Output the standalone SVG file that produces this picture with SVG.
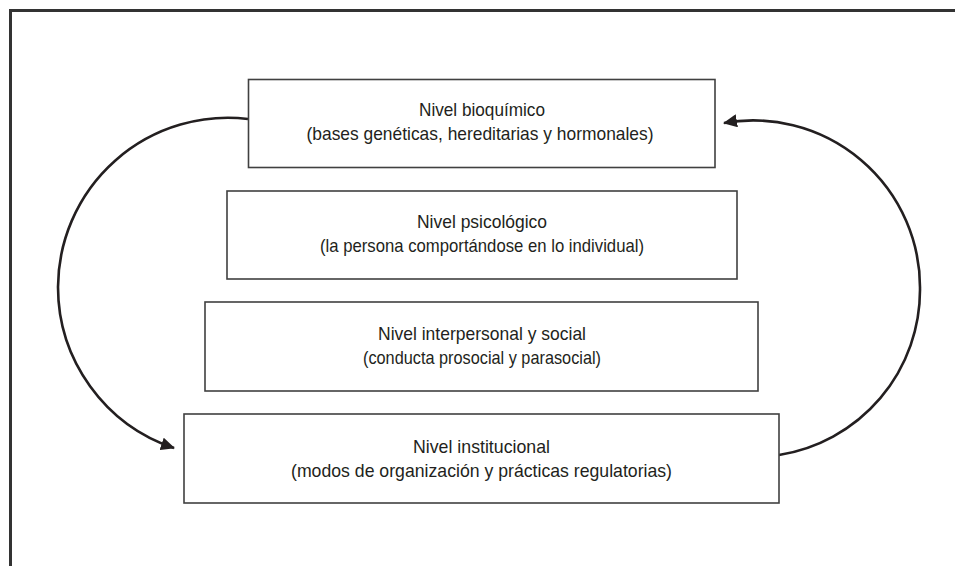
<svg xmlns="http://www.w3.org/2000/svg" width="955" height="566" viewBox="0 0 955 566">
<style>
.box{fill:#fff;stroke:#404040;stroke-width:1.6}
.t{font-family:"Liberation Sans",Arial,sans-serif;font-size:19px;fill:#231f20;text-anchor:middle}
.arc{fill:none;stroke:#231f20;stroke-width:2.6}
.frame{fill:none;stroke:#333;stroke-width:3}
</style>
<defs>
<marker id="ah" viewBox="0 0 14 13" refX="13" refY="6.5" markerWidth="14" markerHeight="13" markerUnits="userSpaceOnUse" orient="auto">
<path d="M0,0 L14,6.5 L0,13 Z" fill="#231f20"/>
</marker>
</defs>
<rect width="955" height="566" fill="#fff"/>
<path class="frame" d="M10.5 566 V10.5 H955"/>
<g id="connectors">
<path class="arc" d="M248 119 A170 170 0 0 0 58 287 A170 170 0 0 0 174 448" marker-end="url(#ah)"/>
<path class="arc" d="M779 455 A167 167 0 0 0 920 289 A167 167 0 0 0 724 123" marker-end="url(#ah)"/>
</g>
<g id="n1">
<rect class="box" x="248.5" y="79.5" width="466.5" height="88"/>
<text class="t" x="482" y="116" textLength="126" lengthAdjust="spacingAndGlyphs">Nivel bioquímico</text>
<text class="t" x="480" y="140" textLength="347" lengthAdjust="spacingAndGlyphs">(bases genéticas, hereditarias y hormonales)</text>
</g>
<g id="n2">
<rect class="box" x="227" y="191" width="510" height="88"/>
<text class="t" x="482" y="228" textLength="130" lengthAdjust="spacingAndGlyphs">Nivel psicológico</text>
<text class="t" x="482" y="252" textLength="324" lengthAdjust="spacingAndGlyphs">(la persona comportándose en lo individual)</text>
</g>
<g id="n3">
<rect class="box" x="205" y="302" width="553" height="89"/>
<text class="t" x="482" y="340" textLength="208" lengthAdjust="spacingAndGlyphs">Nivel interpersonal y social</text>
<text class="t" x="482" y="364" textLength="238" lengthAdjust="spacingAndGlyphs">(conducta prosocial y parasocial)</text>
</g>
<g id="n4">
<rect class="box" x="184" y="414" width="595" height="89"/>
<text class="t" x="481.5" y="453" textLength="137" lengthAdjust="spacingAndGlyphs">Nivel institucional</text>
<text class="t" x="481.5" y="477" textLength="381" lengthAdjust="spacingAndGlyphs">(modos de organización y prácticas regulatorias)</text>
</g>
</svg>
